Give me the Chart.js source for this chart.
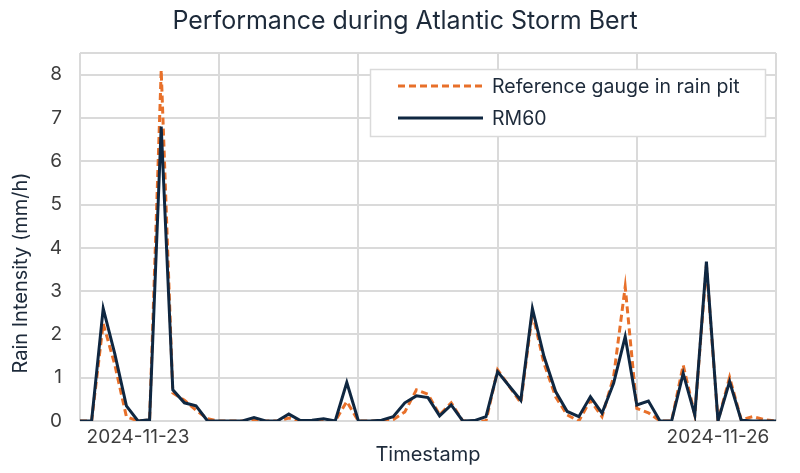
<!DOCTYPE html>
<html>
<head>
<meta charset="utf-8">
<title>Performance during Atlantic Storm Bert</title>
<script src="https://cdn.jsdelivr.net/npm/chart.js@4.4.1/dist/chart.umd.min.js"></script>
<style>
  html, body { margin: 0; padding: 0; background: #fff; }
  #wrap { width: 800px; height: 473px; position: relative; }
</style>
</head>
<body>
<div id="wrap"><canvas id="stormChart"></canvas></div>
<script>
// Rain intensity (mm/h), one value per timestamp
const referenceGauge = [
  0, 0, 2.25, 1.3, 0.1, 0, 0.02, 8.1, 0.65, 0.48, 0.25, 0.05,
  0, 0, 0, 0.03, 0, 0, 0.07, 0, 0, 0.03, 0, 0.45,
  0, 0, 0, 0.03, 0.21, 0.72, 0.62, 0.14, 0.42, 0, 0, 0,
  1.18, 0.8, 0.42, 2.5, 1.33, 0.56, 0.14, 0, 0.48, 0.1, 1.02, 3.1,
  0.29, 0.19, 0, 0, 1.29, 0.14, 3.6, 0, 1.01, 0.03, 0.1, 0.03,
  0
];
const rm60 = [
  0, 0, 2.6, 1.55, 0.35, 0, 0.03, 6.8, 0.72, 0.42, 0.35, 0,
  0, 0, 0, 0.08, 0, 0, 0.16, 0.01, 0.02, 0.05, 0, 0.89,
  0, 0, 0.02, 0.1, 0.42, 0.58, 0.54, 0.12, 0.37, 0, 0.01, 0.1,
  1.14, 0.81, 0.48, 2.6, 1.49, 0.68, 0.22, 0.1, 0.56, 0.18, 0.87, 1.95,
  0.37, 0.46, 0, 0, 1.1, 0.14, 3.68, 0, 0.91, 0.02, 0, 0,
  0
];

// Only two timestamps are labelled on the axis
const dateLabels = ['2024-11-23', '2024-11-26'];
const dateLabelIndex = [5, 55];
const categories = rm60.map((_, i) => {
  const k = dateLabelIndex.indexOf(i);
  return k >= 0 ? dateLabels[k] : '';
});

const chartTitle = 'Performance during Atlantic Storm Bert';
const yTitle = 'Rain Intensity (mm/h)';

const textColor = '#1d2a3a';
const tickColor = '#3d3d3d';
const gridColor = '#dadada';
const fontFamily = 'Inter, "Noto Sans", sans-serif';

// Title, y axis title and a boxed legend inside the plot (top right)
const decorations = {
  id: 'decorations',
  afterDatasetsDraw(chart) {
    const { ctx, chartArea } = chart;
    ctx.save();

    ctx.font = '25px ' + fontFamily;
    ctx.textAlign = 'center';
    ctx.textBaseline = 'middle';
    ctx.fillStyle = textColor;
    ctx.fillText(chartTitle, 405, 21);

    const w = 396, h = 68;
    const x = chartArea.right - 10 - w;
    const y = chartArea.top + 16;
    ctx.fillStyle = '#ffffff';
    ctx.fillRect(x, y, w, h);
    ctx.strokeStyle = gridColor;
    ctx.lineWidth = 1.5;
    ctx.strokeRect(x + 0.5, y + 0.5, w - 1, h - 1);
    ctx.font = '19.5px ' + fontFamily;
    ctx.textAlign = 'left';
    chart.data.datasets.forEach((ds, i) => {
      const rowY = y + 17 + i * 32;
      ctx.beginPath();
      ctx.setLineDash(ds.borderDash || []);
      ctx.strokeStyle = ds.borderColor;
      ctx.lineWidth = ds.borderWidth;
      ctx.moveTo(x + 28, rowY);
      ctx.lineTo(x + 113, rowY);
      ctx.stroke();
      ctx.setLineDash([]);
      ctx.fillStyle = textColor;
      ctx.fillText(ds.label, x + 122, rowY + 1);
    });

    ctx.translate(21, chartArea.top + 220);
    ctx.rotate(-Math.PI / 2);
    ctx.font = '20px ' + fontFamily;
    ctx.textAlign = 'center';
    ctx.fillStyle = textColor;
    ctx.fillText(yTitle, 0, 0);
    ctx.restore();
  }
};

const ctx = document.getElementById('stormChart').getContext('2d');
const stormChart = new Chart(ctx, {
  type: 'line',
  data: {
    labels: categories,
    datasets: [
      {
        label: 'Reference gauge in rain pit',
        data: referenceGauge,
        borderColor: '#e8702a',
        borderWidth: 3,
        borderDash: [7, 4],
        order: 1,
      },
      {
        label: 'RM60',
        data: rm60,
        borderColor: '#0f2741',
        borderWidth: 3,
        order: 0,
      },
    ],
  },
  options: {
    responsive: true,
    maintainAspectRatio: false,
    animation: false,
    layout: { padding: { left: 0, right: 24, top: 53, bottom: 0 } },
    elements: {
      point: { radius: 0, hoverRadius: 0 },
      line: { tension: 0, borderCapStyle: 'butt', borderJoinStyle: 'miter' },
    },
    plugins: {
      legend: { display: false },
      tooltip: { enabled: false },
      title: { display: false },
    },
    scales: {
      x: {
        grid: {
          drawTicks: false,
          lineWidth: 2,
          color: (c) => (c.index % 12 === 0 ? gridColor : 'rgba(0,0,0,0)'),
        },
        border: { display: false },
        ticks: {
          autoSkip: false,
          maxRotation: 0,
          padding: 5,
          color: tickColor,
          font: { family: fontFamily, size: 19 },
        },
        title: {
          display: true,
          text: 'Timestamp',
          color: textColor,
          font: { family: fontFamily, size: 20, lineHeight: 1.2 },
          padding: { top: 0, bottom: 6 },
        },
        afterFit(scale) { scale.height = 52; },
      },
      y: {
        min: 0,
        max: 8.5,
        grid: { drawTicks: false, lineWidth: 2, color: gridColor },
        border: { display: false },
        ticks: {
          stepSize: 1,
          padding: 18,
          color: tickColor,
          font: { family: fontFamily, size: 19 },
          callback: (v) => (Number.isInteger(v) ? v : ''),
        },
        afterFit(scale) { scale.width = 80; },
      },
    },
  },
  plugins: [decorations],
});
</script>
</body>
</html>
